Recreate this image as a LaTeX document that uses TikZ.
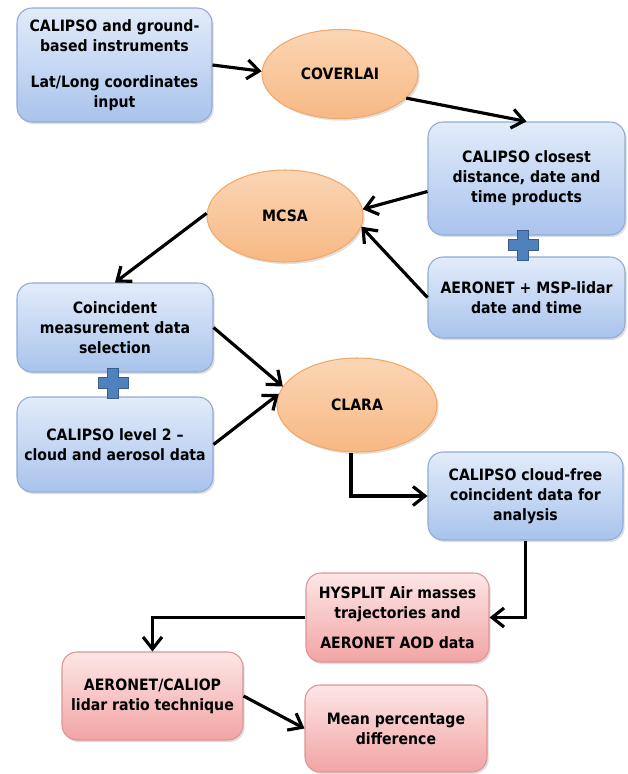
\documentclass[tikz,border=0pt]{standalone}
\usepackage{fontspec}
\setmainfont{DejaVu Sans Condensed}
\usetikzlibrary{shapes.geometric,arrows.meta,shadows}

\definecolor{bluetop}{HTML}{E2ECFA}
\definecolor{bluebot}{HTML}{A9C3EC}
\definecolor{blueline}{HTML}{8FAAD6}
\definecolor{orangetop}{HTML}{FBD6B4}
\definecolor{orangebot}{HTML}{F7B884}
\definecolor{orangeline}{HTML}{F2A867}
\definecolor{pinktop}{HTML}{FDE6E6}
\definecolor{pinkbot}{HTML}{F2A4A4}
\definecolor{pinkline}{HTML}{D99694}
\definecolor{plusfill}{HTML}{4F81BD}
\definecolor{plusline}{HTML}{385D8A}

\begin{document}
\begin{tikzpicture}[x=0.02cm,y=-0.02cm,
    font=\bfseries\fontsize{8.9}{11.4}\selectfont,
    shadowed/.style={drop shadow={opacity=0.25,shadow xshift=1pt,shadow yshift=-1.2pt}},
    bluebox/.style={rectangle,rounded corners=0.3cm,draw=blueline,line width=0.6pt,
      top color=bluetop,bottom color=bluebot,align=center,shadowed},
    pinkbox/.style={rectangle,rounded corners=0.3cm,draw=pinkline,line width=0.6pt,
      top color=pinktop,bottom color=pinkbot,align=center,shadowed},
    tool/.style={ellipse,draw=orangeline,line width=0.6pt,top color=orangetop,
      bottom color=orangebot,shadowed},
    flow/.style={line width=1.8pt,-{Straight Barb[length=2.4mm,width=3.8mm,line width=1.8pt]}}]

  \useasboundingbox (0,0) rectangle (627,774);

  % input side
  \node[bluebox,minimum width=3.9cm,minimum height=2.28cm] (input) at (114.5,65)
    {CALIPSO and ground-\\based instruments\\[9pt]Lat/Long coordinates\\input};
  \node[tool,minimum width=3.12cm,minimum height=1.78cm] (coverlai) at (340,74) {COVERLAI};
  \node[bluebox,minimum width=3.94cm,minimum height=2.26cm] (closest) at (526.5,178.5)
    {CALIPSO closest\\distance, date and\\time products};
  \node[bluebox,minimum width=3.94cm,minimum height=1.62cm] (aeronet) at (526.5,297.5)
    {AERONET + MSP-lidar\\date and time};
  \node[tool,minimum width=3.12cm,minimum height=1.84cm] (mcsa) at (285,216) {MCSA};

  % selection
  \node[bluebox,minimum width=3.92cm,minimum height=1.78cm] (coincident) at (115,327.5)
    {Coincident\\measurement data\\selection};
  \node[bluebox,minimum width=3.92cm,minimum height=1.9cm] (level2) at (115,444.5)
    {CALIPSO level 2 --\\cloud and aerosol data};
  \node[tool,minimum width=3.2cm,minimum height=1.88cm] (clara) at (357,405) {CLARA};
  \node[bluebox,minimum width=3.9cm,minimum height=1.76cm] (cloudfree) at (525.5,496)
    {CALIPSO cloud-free\\coincident data for\\analysis};

  % analysis
  \node[pinkbox,minimum width=3.66cm,minimum height=1.78cm] (hysplit) at (397.5,617.5)
    {HYSPLIT Air masses\\trajectories and\\[6pt]AERONET AOD data};
  \node[pinkbox,minimum width=3.62cm,minimum height=1.76cm] (lidarratio) at (152.5,696)
    {AERONET/CALIOP\\lidar ratio technique};
  \node[pinkbox,minimum width=3.64cm,minimum height=1.74cm] (mpd) at (396,728.5)
    {Mean percentage\\difference};

  % plus signs
  \foreach \px/\py in {523/245,113/383}
    \draw[plusline,fill=plusfill,line width=0.5pt] (\px-5.5,\py-15) -- ++(11,0) -- ++(0,9.5)
      -- ++(9.5,0) -- ++(0,11) -- ++(-9.5,0) -- ++(0,9.5) -- ++(-11,0) -- ++(0,-9.5)
      -- ++(-9.5,0) -- ++(0,-11) -- ++(9.5,0) -- cycle;

  % connectors
  \draw[flow] (input.east) -- (coverlai.178);
  \draw[flow] (coverlai.-20) -- (closest.north);
  \draw[flow] ([yshift=-0.26cm]closest.west) -- (mcsa.5);
  \draw[flow] (aeronet.west) -- (mcsa.-8);
  \draw[flow] (mcsa.178) -- (coincident.north);
  \draw[flow] (coincident.east) -- (clara.166);
  \draw[flow] (level2.east) -- (clara.172);
  \draw[flow] ([xshift=-0.12cm]clara.south) |- (cloudfree.west);
  \draw[flow] (cloudfree.south) |- (hysplit.east);
  \draw[flow] (hysplit.west) -| (lidarratio.north);
  \draw[flow] (lidarratio.east) -- (mpd.west);
\end{tikzpicture}
\end{document}
